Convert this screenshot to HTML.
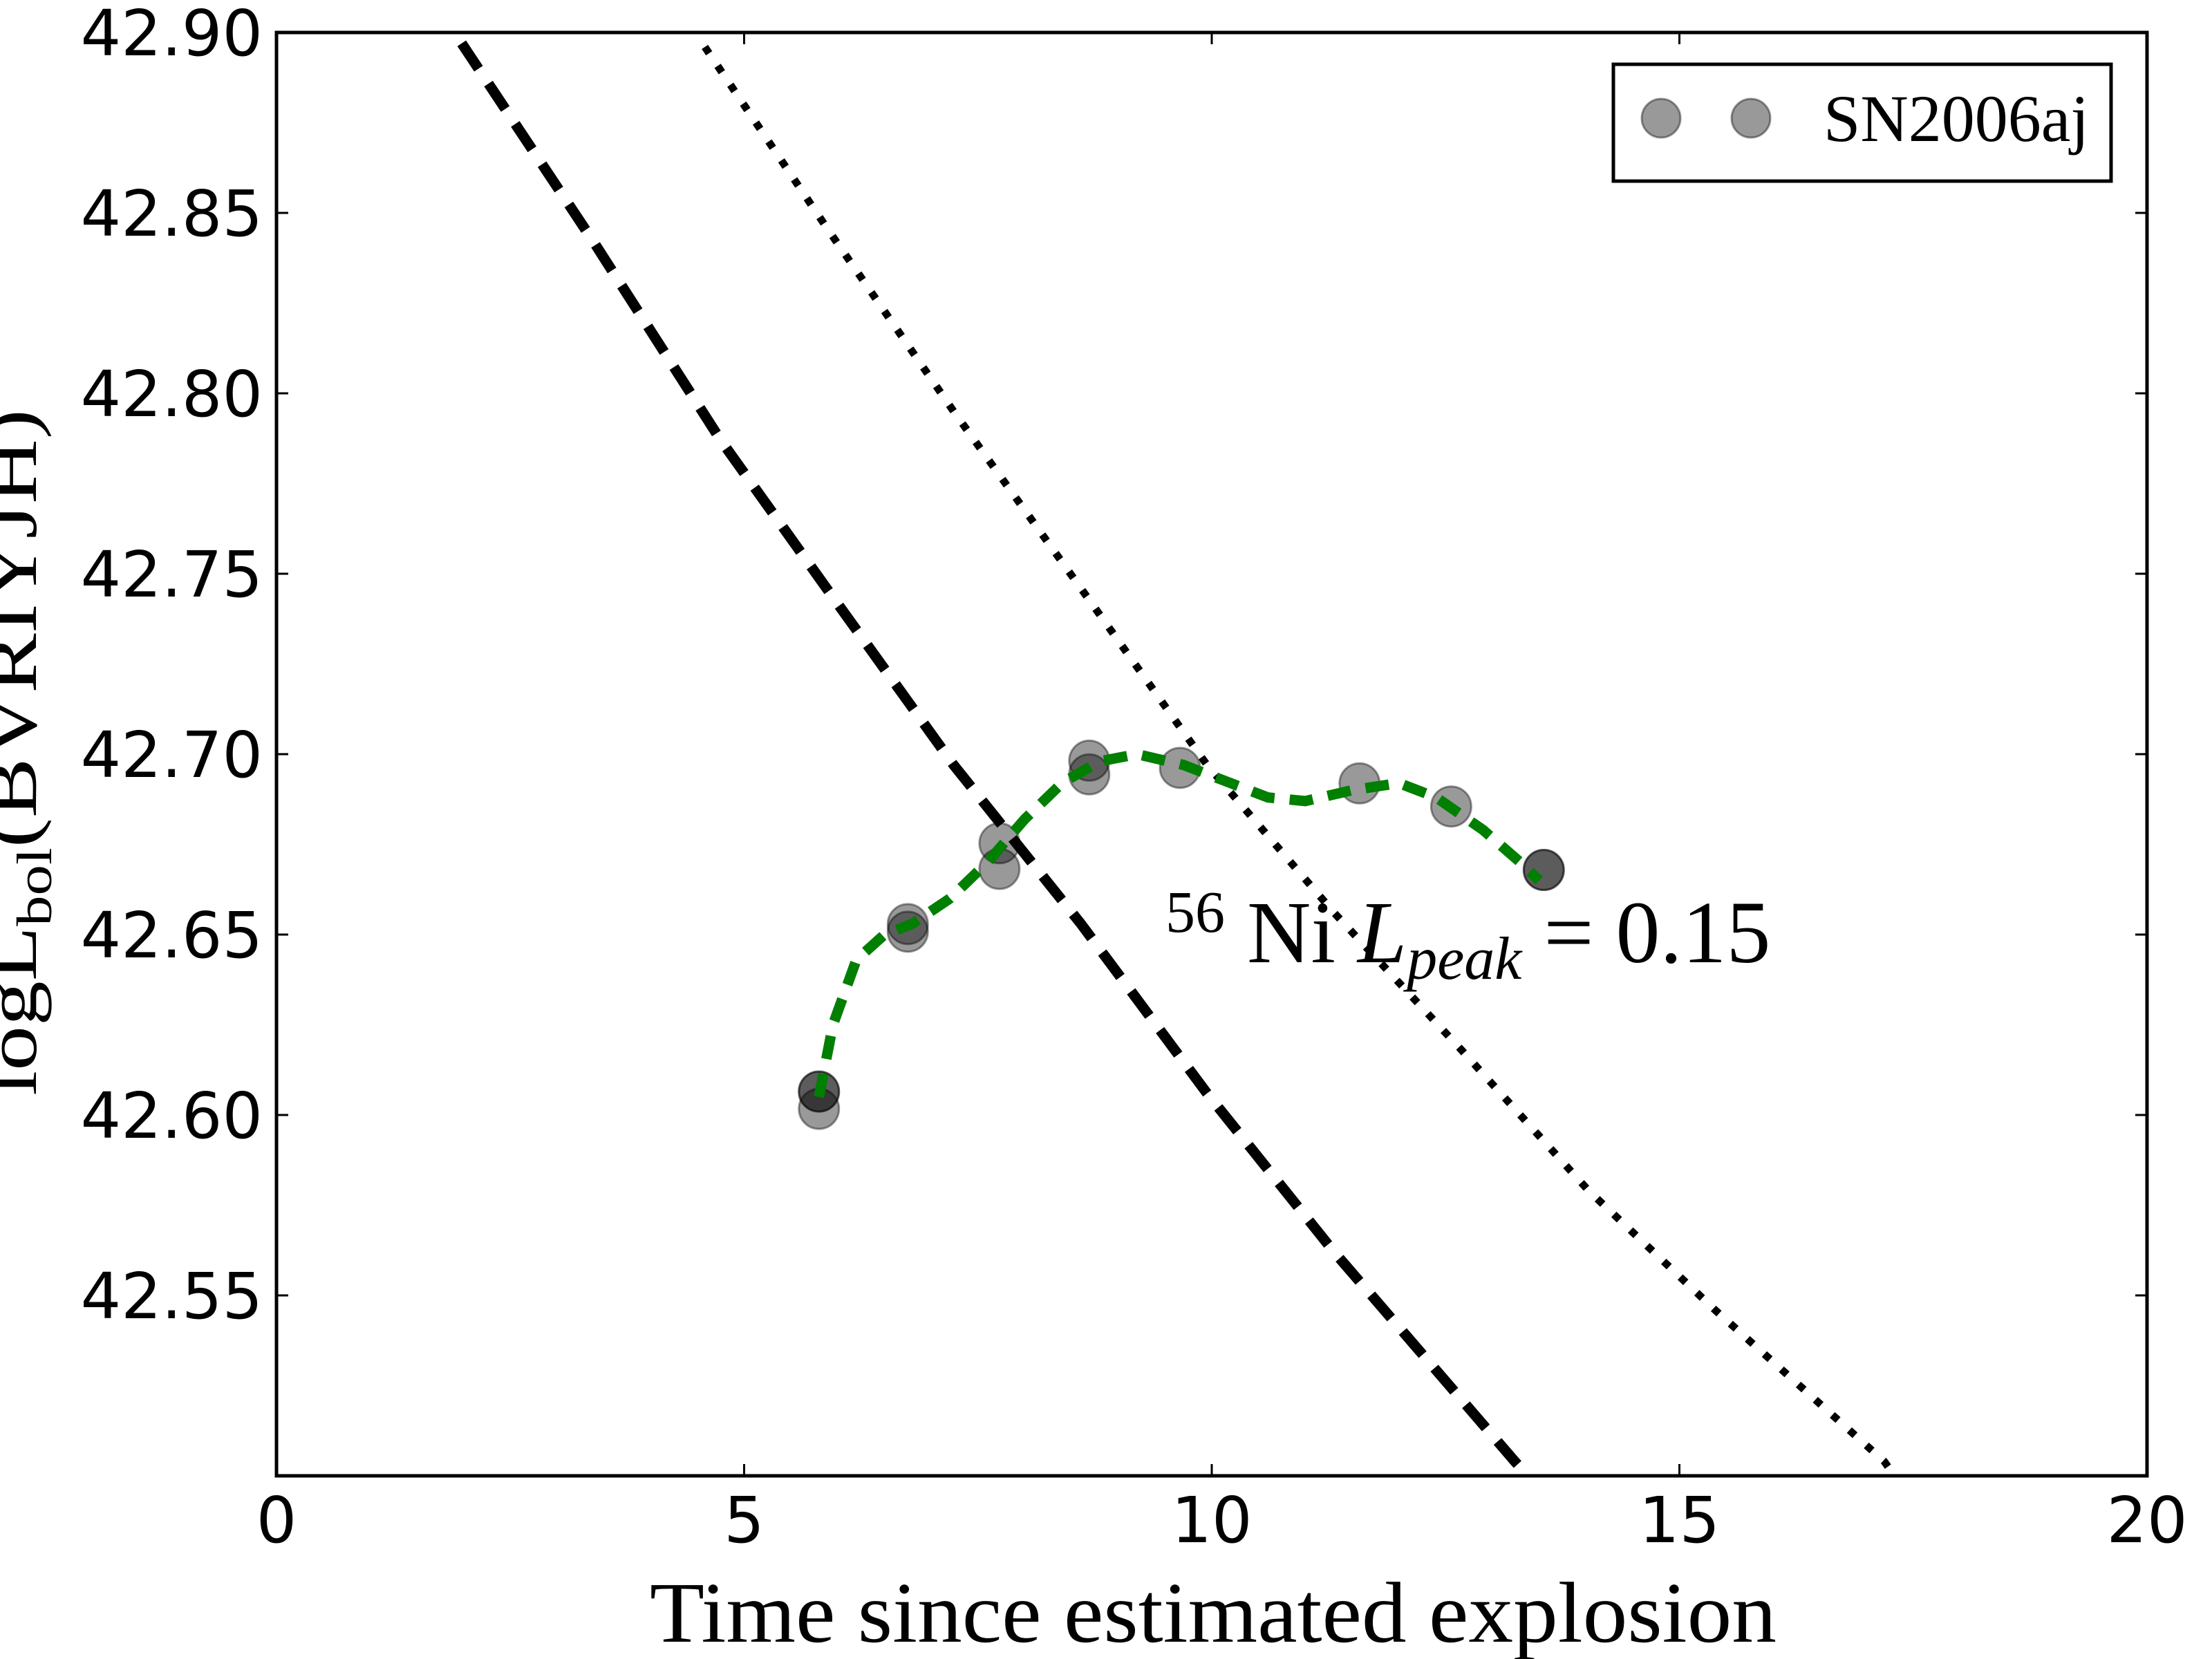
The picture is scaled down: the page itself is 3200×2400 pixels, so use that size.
<!DOCTYPE html>
<html><head><meta charset="utf-8"><style>
html,body{margin:0;padding:0;background:#fff;}
svg{display:block;}
</style></head><body>
<svg id="chart" xmlns="http://www.w3.org/2000/svg" width="3200" height="2400" viewBox="0 0 3200 2400">
<rect width="3200" height="2400" fill="#fff"/>
<g id="plot"></g>
</svg>
<script>
const xTicks = [0, 5, 10, 15, 20];
const xTickLabels = ["0", "5", "10", "15", "20"];
const yTicks = [42.55, 42.60, 42.65, 42.70, 42.75, 42.80, 42.85, 42.90];
const yTickLabels = ["42.55", "42.60", "42.65", "42.70", "42.75", "42.80", "42.85", "42.90"];
const obsX = [5.8, 5.8, 5.8, 6.75, 6.75, 7.73, 7.73, 8.69, 8.69, 9.66, 11.58, 12.56, 13.55, 13.55];
const obsY = [42.6065, 42.6065, 42.6017, 42.6529, 42.6508, 42.6753, 42.6682, 42.6982, 42.6944, 42.6962, 42.6919, 42.6855, 42.6679, 42.6679];
const fitX = [5.8, 5.95, 6.2, 6.5, 6.8, 7.2, 7.6, 8.0, 8.4, 8.8, 9.2, 9.7, 10.2, 10.6, 11.0, 11.5, 12.0, 12.4, 12.9, 13.3, 13.5];
const fitY = [42.605, 42.625, 42.643, 42.650, 42.653, 42.660, 42.670, 42.682, 42.692, 42.698, 42.700, 42.697, 42.692, 42.688, 42.687, 42.690, 42.692, 42.688, 42.679, 42.670, 42.665];
const dashX = [1.98, 3.39, 4.75, 5.88, 7.24, 8.60, 9.95, 11.31, 13.24, 13.45];
const dashY = [42.897, 42.842, 42.787, 42.746, 42.697, 42.653, 42.606, 42.562, 42.504, 42.498];
const dotX = [4.58, 5.88, 7.24, 8.60, 9.95, 11.31, 12.67, 14.03, 15.38, 17.19, 17.3];
const dotY = [42.896, 42.846, 42.795, 42.746, 42.697, 42.656, 42.618, 42.579, 42.546, 42.504, 42.500];

const L = 400, R = 3106, T = 47, B = 2135;
const X0 = 0, X1 = 20, Y0 = 42.50, Y1 = 42.90;
function sx(v){ return L + (v - X0) / (X1 - X0) * (R - L); }
function sy(v){ return B - (v - Y0) / (Y1 - Y0) * (B - T); }
const NS = "http://www.w3.org/2000/svg";
const svg = document.getElementById('chart');
function mk(tag, attrs, parent){
  const e = document.createElementNS(NS, tag);
  for (const k in attrs) e.setAttribute(k, attrs[k]);
  (parent || svg).appendChild(e);
  return e;
}
const defs = mk('defs', {});
const cp = mk('clipPath', {id: 'clip'}, defs);
mk('rect', {x: L, y: T, width: R - L, height: B - T}, cp);
const plot = mk('g', {'clip-path': 'url(#clip)'});
function pts(xs, ys){ return xs.map((x, i) => sx(x).toFixed(1) + ',' + sy(ys[i]).toFixed(1)).join(' '); }

const dl = mk('polyline', {points: pts(dashX, dashY), fill: 'none', stroke: '#000', 'stroke-width': 15, 'stroke-dasharray': '44 26'}, plot);


const dt = mk('polyline', {points: pts(dotX, dotY), fill: 'none', stroke: '#000', 'stroke-width': 11, 'stroke-dasharray': '11 22'}, plot);



for (let i = 0; i < obsX.length; i++) {
  const c = mk('circle', {cx: sx(obsX[i]), cy: sy(obsY[i]), r: 29, fill: '#000', 'fill-opacity': 0.4, stroke: '#000', 'stroke-opacity': 0.4, 'stroke-width': 3}, plot);
  
  
}
const gl = mk('polyline', {points: pts(fitX, fitY), fill: 'none', stroke: '#007f00', 'stroke-width': 15, 'stroke-dasharray': '34 22'}, plot);



const frame = mk('rect', {x: L, y: T, width: R - L, height: B - T, fill: 'none', stroke: '#000', 'stroke-width': 5});



xTicks.forEach((v, i) => {
  const x = sx(v);
  mk('line', {x1: x, y1: B, x2: x, y2: B - 17, stroke: '#000', 'stroke-width': 3});
  mk('line', {x1: x, y1: T, x2: x, y2: T + 17, stroke: '#000', 'stroke-width': 3});
  const t = mk('text', {x: x, y: 2231, 'text-anchor': 'middle', 'font-family': 'DejaVu Sans, sans-serif', 'font-size': 92});
  t.textContent = xTickLabels[i];
  
  
});
yTicks.forEach((v, i) => {
  const y = sy(v);
  mk('line', {x1: L, y1: y, x2: L + 17, y2: y, stroke: '#000', 'stroke-width': 3});
  mk('line', {x1: R, y1: y, x2: R - 17, y2: y, stroke: '#000', 'stroke-width': 3});
  const t = mk('text', {x: 380, y: y + 33, 'text-anchor': 'end', 'font-family': 'DejaVu Sans, sans-serif', 'font-size': 92});
  t.textContent = yTickLabels[i];
  
  
});

const xl = mk('text', {x: 940, y: 2375, 'font-family': 'Liberation Serif, serif', 'font-size': 125, textLength: 1630, lengthAdjust: 'spacingAndGlyphs'});
xl.textContent = 'Time since estimated explosion';



const yl = mk('text', {x: 0, y: 0, transform: 'translate(52,1585) rotate(-90)', 'font-family': 'Liberation Serif, serif', 'font-size': 105, textLength: 993, lengthAdjust: 'spacingAndGlyphs'});
yl.innerHTML = 'logL<tspan font-size="72" dy="22">bol</tspan><tspan dy="-22">(BVRIYJH)</tspan>';



const ann = mk('text', {x: 1686, y: 1392, 'font-family': 'Liberation Serif, serif', 'font-size': 128});
ann.innerHTML = '<tspan font-size="86" dy="-44">56</tspan><tspan dy="44"> Ni </tspan><tspan font-style="italic">L</tspan><tspan font-style="italic" font-size="88" dy="24">peak</tspan><tspan dy="-24"> = 0.15</tspan>';



const lg = mk('g', {});


mk('rect', {x: 2334, y: 93, width: 720, height: 169, fill: '#fff', stroke: '#000', 'stroke-width': 5}, lg);
[2403, 2533].forEach(cx => {
  const m = mk('circle', {cx: cx, cy: 171, r: 28, fill: '#000', 'fill-opacity': 0.4, stroke: '#000', 'stroke-opacity': 0.4, 'stroke-width': 3}, lg);
  
  
});
const lt = mk('text', {x: 2638, y: 204, 'font-family': 'Liberation Serif, serif', 'font-size': 96}, lg);
lt.textContent = 'SN2006aj';


</script>
</body></html>
